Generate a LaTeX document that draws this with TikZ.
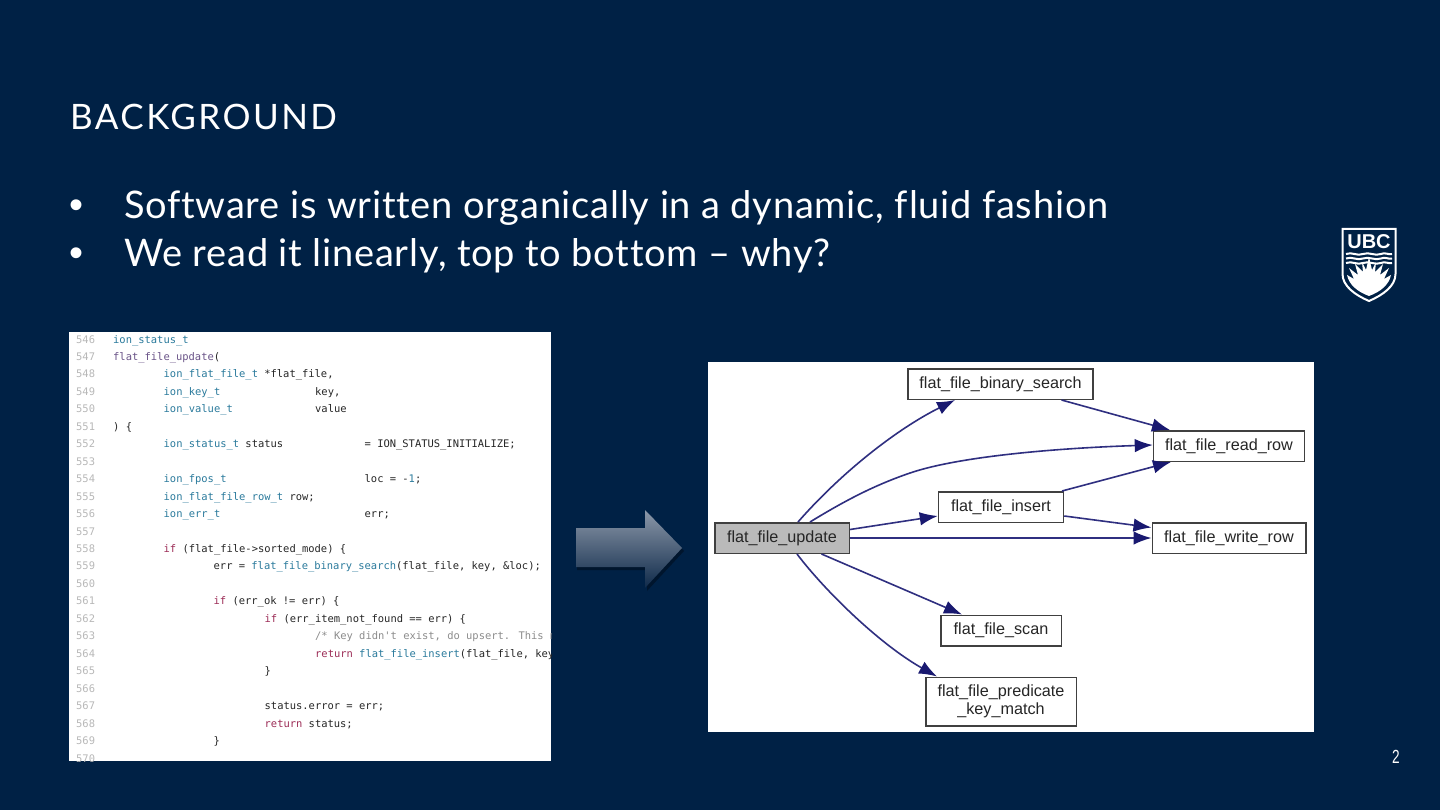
\documentclass[tikz,border=0pt]{standalone}
\usepackage{fontspec}
\usetikzlibrary{arrows.meta,calc}
\setmainfont[LetterSpace=2.0,Ligatures=NoCommon]{Lato}
\newfontfamily\titlefont[LetterSpace=7,Ligatures=NoCommon]{Lato}
\newfontfamily\codefont{DejaVu Sans Mono}
\newfontfamily\graphfont{Liberation Sans}
\definecolor{bgblue}{HTML}{002145}
\definecolor{ctype}{HTML}{2A7A9C}
\definecolor{cfun}{HTML}{6A5488}
\definecolor{ckey}{HTML}{9C2C56}
\definecolor{ccom}{HTML}{8C8C8C}
\definecolor{ctext}{HTML}{262626}
\definecolor{cnum}{HTML}{B8B8B8}
\definecolor{edgeblue}{HTML}{2F2F80}
\definecolor{tipblue}{HTML}{191970}
\definecolor{arrowtop}{HTML}{8C98A9}
\definecolor{arrowbot}{HTML}{0F2A4A}
\newcommand{\ty}[1]{\textcolor{ctype}{#1}}
\newcommand{\fn}[1]{\textcolor{cfun}{#1}}
\newcommand{\kw}[1]{\textcolor{ckey}{#1}}
\newcommand{\cm}[1]{\textcolor{ccom}{#1}}
\newcommand{\col}[2]{\makebox[#1pt][l]{#2}}
\newcommand{\lo}[1]{\raisebox{-1pt}{#1}}
\newcommand{\cl}[3]{\pgfmathsetmacro\yy{343+17.46*(#1-546)}\node[codetxt] (l#1) at (#2,\yy) {#3};}
\begin{document}
\begin{tikzpicture}[x=1pt,y=-1pt,
  titletxt/.style={anchor=base west,inner sep=0,text=white,font=\titlefont\fontsize{35}{35}\selectfont},
  bodytxt/.style={anchor=base west,inner sep=0,text=white,font=\fontsize{38}{42}\selectfont},
  bullettxt/.style={anchor=base west,inner sep=0,text=white,font=\graphfont\fontsize{40}{42}\selectfont},
  codetxt/.style={anchor=base west,inner sep=0,text=ctext,font=\codefont\fontsize{10.45}{12}\selectfont},
  numtxt/.style={anchor=base west,inner sep=0,text=cnum,font=\codefont\fontsize{10.45}{12}\selectfont},
  fnbox/.style={draw=black!75,line width=1.5,fill=white,inner sep=0,align=center,text=black!85,font=\graphfont\fontsize{16.2}{18.5}\selectfont},
  edge/.style={draw=edgeblue,line width=1.6,-{Latex[length=18pt,width=13.5pt,color=tipblue]}}]
\useasboundingbox (0,0) rectangle (1440,810);
\fill[bgblue] (0,0) rectangle (1440,810);
% headings
\node[titletxt] (title) at (70,130) {BACKGROUND};
\node[bullettxt] (b1) at (69,219) {•};
\node[bodytxt] (t1) at (124,219) {Software is written organically in a dynamic, fluid fashion};
\node[bullettxt] (b2) at (69,267) {•};
\node[bodytxt] (t2) at (124,267) {We read it linearly, top to bottom – why?};
\node[anchor=base,inner sep=0,text=white,font=\graphfont\fontsize{19}{19}\selectfont] (pg) at (1396,763) {\scalebox{0.72}[1]{2}};
% code panel
\fill[white] (69,332) rectangle (551,761);
\begin{scope}
\clip (69,332) rectangle (551,761);
\foreach \n in {546,...,570}{
  \pgfmathsetmacro\yy{343+17.46*(\n-546)}
  \node[numtxt] (n\n) at (76,\yy) {\n};
}
\cl{546}{113}{\ty{ion\_status\_t}}
\cl{547}{113}{\fn{flat\_file\_update}(}
\cl{548}{163.5}{\ty{ion\_flat\_file\_t} *flat\_file,}
\cl{549}{163.5}{\col{151.5}{\ty{ion\_key\_t}}key,}
\cl{550}{163.5}{\col{151.5}{\ty{ion\_value\_t}}value}
\cl{551}{113}{) \{}
\cl{552}{163.5}{\col{201}{\ty{ion\_status\_t} status}= ION\_STATUS\_INITIALIZE;}
\cl{554}{163.5}{\col{201}{\ty{ion\_fpos\_t}}loc = -\ty{1};}
\cl{555}{163.5}{\ty{ion\_flat\_file\_row\_t} row;}
\cl{556}{163.5}{\col{201}{\ty{ion\_err\_t}}err;}
\cl{558}{163.5}{\kw{if} (flat\_file->sorted\_mode) \{}
\cl{559}{213.5}{err = \ty{flat\_file\_binary\_search}(flat\_file, key, \&loc);}
\cl{561}{213.5}{\kw{if} (err\_ok != err) \{}
\cl{562}{264.5}{\kw{if} (err\_item\_not\_found == err) \{}
\cl{563}{315}{\cm{/* Key didn't exist, do upsert. This m}}
\cl{564}{315}{\kw{return} \ty{flat\_file\_insert}(flat\_file, key}
\cl{565}{264.5}{\}}
\cl{567}{264.5}{status.error = err;}
\cl{568}{264.5}{\kw{return} status;}
\cl{569}{213.5}{\}}
\end{scope}
% big arrow
\fill[black!35!bgblue] (577,531) -- (647,531) -- (647,513) -- (684,551) -- (647,591) -- (647,570) -- (577,570) -- cycle;
\shade[top color=arrowtop,bottom color=arrowbot] (576,528) -- (645,528) -- (645,510) -- (682,548) -- (645,588) -- (645,567) -- (576,567) -- cycle;
% graph panel
\fill[white] (708,362) rectangle (1314,732);
\node[fnbox,minimum width=185,minimum height=30.5] (bin) at (1000.5,384) {\lo{flat\_file\_binary\_search}};
\node[fnbox,minimum width=151,minimum height=30.5] (read) at (1229,446) {\lo{flat\_file\_read\_row}};
\node[fnbox,minimum width=125,minimum height=30.5] (ins) at (1001,507) {\lo{flat\_file\_insert}};
\node[fnbox,minimum width=153.5,minimum height=30.5] (write) at (1229,538) {\lo{flat\_file\_write\_row}};
\node[fnbox,fill=black!27,minimum width=134.5,minimum height=30.5] (upd) at (782,538) {\lo{flat\_file\_update}};
\node[fnbox,minimum width=120.5,minimum height=30.5] (scan) at (1001,630.5) {\lo{flat\_file\_scan}};
\node[fnbox,minimum width=150.5,minimum height=48.5] (pred) at (1001,701.5) {flat\_file\_predicate\\\_key\_match};
\draw[edge] ([xshift=16]upd.north) .. controls +(42,-48) and +(-60,30) .. ([xshift=-45.5]bin.south);
\draw[edge] ([xshift=28]upd.north) .. controls +(36,-22) and +(-35,12) .. ++(100,-49) .. controls +(50,-17) and +(-93,3) .. ([yshift=1]read.west);
\draw[edge] ([yshift=8.5]upd.east) -- ([yshift=-9]ins.west);
\draw[edge] (upd.east) -- (write.west);
\draw[edge] ([xshift=61]bin.south) -- ([xshift=-59]read.north);
\draw[edge] ([xshift=61]ins.north) -- ([xshift=-58]read.south);
\draw[edge] ([yshift=-9]ins.east) -- ([yshift=10.5]write.west);
\draw[edge] ([xshift=39.5]upd.south) -- ([xshift=-39]scan.north);
\draw[edge] ([xshift=15]upd.south) .. controls +(28,37) and +(-57,-32) .. ([xshift=-64]pred.north);
% logo
\begin{scope}
\path[fill=bgblue,draw=white,line width=2] (1342.5,229) -- (1395.5,229) -- (1395.5,274) .. controls (1395.5,286) and (1383,295) .. (1369,301) .. controls (1355,295) and (1342.5,286) .. (1342.5,274) -- cycle;
\node[anchor=base,inner sep=0,text=white,font=\graphfont\bfseries\fontsize{20}{20}\selectfont] (ubc) at (1369,249) {UBC};
\foreach \w in {254,258.5,263}{
  \draw[white,line width=2] (1346,\w) .. controls (1352,\w-2.5) and (1357,\w+2.5) .. (1363,\w) .. controls (1369,\w-2.5) and (1375,\w+2.5) .. (1381,\w) .. controls (1385,\w-2) and (1388,\w+1) .. (1392,\w);
}
\fill[white] (1369,296) .. controls (1358,292) and (1349,285) .. (1347,275) -- (1354,279) -- (1349,268) -- (1358,275) -- (1355,264) -- (1363,272) -- (1362,262) -- (1366,270) -- (1369,257) -- (1372,270) -- (1376,262) -- (1375,272) -- (1383,264) -- (1380,275) -- (1389,268) -- (1384,279) -- (1391,275) .. controls (1389,285) and (1380,292) .. (1369,296) -- cycle;
\end{scope}
\end{tikzpicture}
\end{document}
